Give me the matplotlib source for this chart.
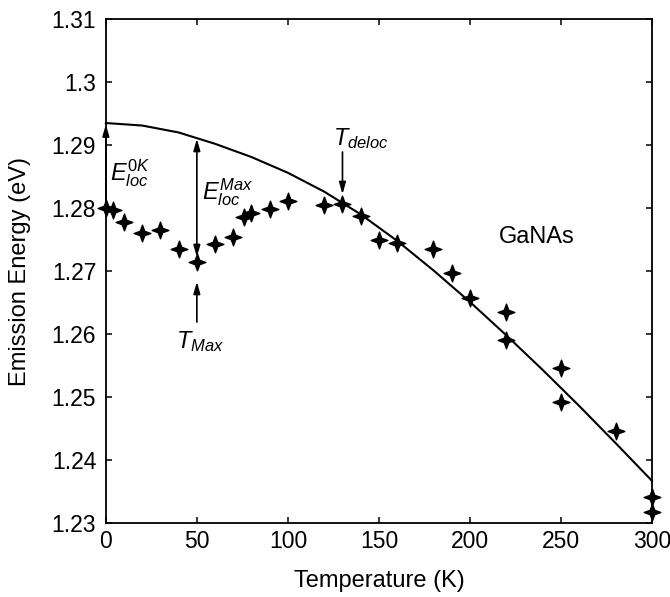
import matplotlib
matplotlib.use('Agg')
import matplotlib.pyplot as plt
from matplotlib.path import Path

plt.rcParams['font.family'] = ['Liberation Sans', 'DejaVu Sans']
plt.rcParams['mathtext.fontset'] = 'custom'
plt.rcParams['mathtext.rm'] = 'Liberation Sans'
plt.rcParams['mathtext.it'] = 'Liberation Sans:italic'
plt.rcParams['mathtext.bf'] = 'Liberation Sans:bold'

# Measured emission energies (GaNAs)
temps = [0, 4, 10, 20, 30, 40, 50, 60, 70, 76, 80, 90, 100, 120, 130, 140,
         150, 160, 180, 190, 200, 220, 220, 250, 250, 280, 300, 300]
energies = [1.2800, 1.2797, 1.2778, 1.2760, 1.2765, 1.2735, 1.2714, 1.2743,
            1.2754, 1.2786, 1.2792, 1.2798, 1.2811, 1.2805, 1.2806, 1.2787,
            1.2749, 1.2744, 1.2735, 1.2697, 1.2657, 1.2635, 1.2590, 1.2546,
            1.2492, 1.2446, 1.2341, 1.2317]

# Fitted (delocalised) band-gap curve
fit_temps = [0, 20, 40, 60, 80, 100, 120, 140, 160, 180, 200, 220, 240,
             260, 280, 300]
fit_energies = [1.2935, 1.2931, 1.2920, 1.2902, 1.2881, 1.2856, 1.2826,
                1.2790, 1.2748, 1.2701, 1.2651, 1.2598, 1.2543, 1.2486,
                1.2427, 1.2367]

x_ticks = [0, 50, 100, 150, 200, 250, 300]
y_ticks = [1.23, 1.24, 1.25, 1.26, 1.27, 1.28, 1.29, 1.30, 1.31]
y_tick_labels = ['1.23', '1.24', '1.25', '1.26', '1.27', '1.28', '1.29', '1.3', '1.31']

fig = plt.figure(figsize=(6.7, 5.97), dpi=100)
ax = fig.add_axes([0.158, 0.124, 0.815, 0.844])

ax.plot(fit_temps, fit_energies, color='black', lw=1.5, clip_on=False, zorder=3)

star = Path.unit_regular_star(4, 0.38)
ax.plot(temps, energies, linestyle='none', marker=star, ms=12,
        color='black', clip_on=False, zorder=4)

ax.set_xlim(0, 300)
ax.set_ylim(1.23, 1.31)
ax.set_xticks(x_ticks)
ax.set_yticks(y_ticks)
ax.set_yticklabels(y_tick_labels)
ax.tick_params(direction='in', top=True, right=True, length=4, width=1.1,
               labelsize=16.5, colors='black')
ax.tick_params(axis='y', pad=7)
ax.tick_params(axis='x', pad=5)
for s in ax.spines.values():
    s.set_linewidth(1.3)

ax.set_xlabel('Temperature (K)', fontsize=17)
ax.set_ylabel('Emission Energy (eV)', fontsize=17)
ax.xaxis.set_label_coords(0.5, -0.093)
ax.yaxis.set_label_coords(-0.138, 0.5)

arrow_kw = dict(color='black', lw=1.2, shrinkA=0, shrinkB=0)
head = 'head_length=0.7,head_width=0.2'

ax.annotate('', xy=(0, 1.2933), xytext=(0, 1.2800),
            arrowprops=dict(arrowstyle='-|>,' + head, **arrow_kw),
            annotation_clip=False)
ax.annotate('', xy=(50, 1.2910), xytext=(50, 1.2722),
            arrowprops=dict(arrowstyle='<|-|>,' + head, **arrow_kw))
ax.annotate('', xy=(50, 1.2683), xytext=(50, 1.2619),
            arrowprops=dict(arrowstyle='-|>,' + head, **arrow_kw))
ax.annotate('', xy=(130, 1.2822), xytext=(130, 1.2889),
            arrowprops=dict(arrowstyle='-|>,' + head, **arrow_kw))

ax.text(2, 1.2855, r'$E_{loc}^{0K}$', fontsize=17, ha='left', va='center')
ax.text(53, 1.2825, r'$E_{loc}^{Max}$', fontsize=17, ha='left', va='center')
ax.text(52, 1.2588, r'$T_{Max}$', fontsize=17, ha='center', va='center')
ax.text(125, 1.2910, r'$T_{deloc}$', fontsize=17, ha='left', va='center')
ax.text(237, 1.2754, 'GaNAs', fontsize=17, ha='center', va='center')

fig.savefig('out.png', dpi=100)
